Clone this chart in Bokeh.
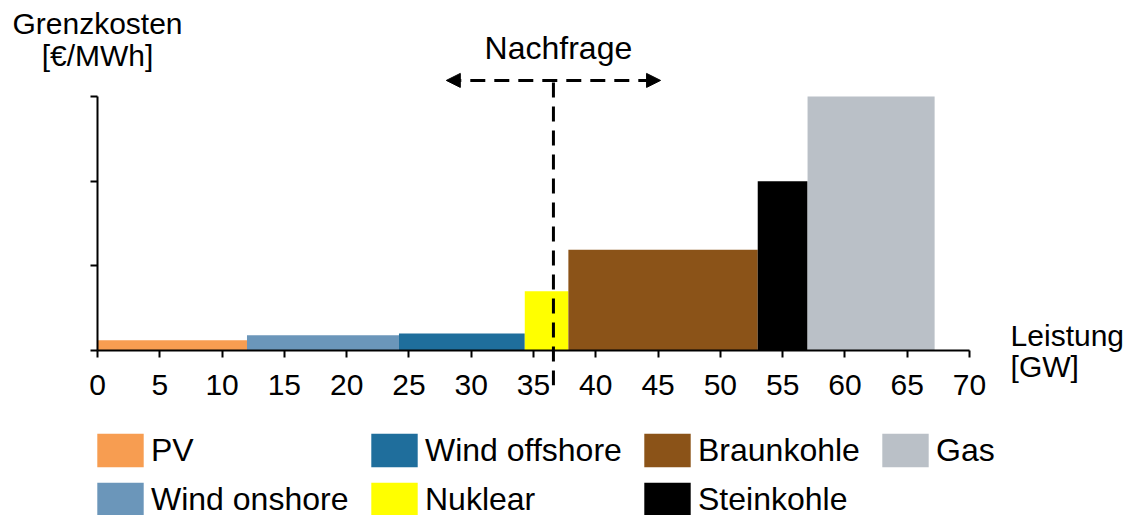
from bokeh.plotting import figure
from bokeh.models import (Legend, LegendItem, Label, Arrow, NormalHead, FixedTicker,
                          LinearAxis, Range1d)
from bokeh.embed import file_html
from bokeh.resources import INLINE

# Merit order: power plant types sorted by marginal cost
sources = ["PV", "Wind onshore", "Wind offshore", "Nuklear", "Braunkohle", "Steinkohle", "Gas"]
capacity_gw = [12.0, 12.2, 10.1, 3.5, 15.2, 4.0, 10.2]
marginal_cost = [0.12, 0.18, 0.20, 0.70, 1.19, 2.00, 3.00]
colors = ["#F79D51", "#6B96BA", "#1F6E9C", "#FFFF00", "#8B5318", "#000000", "#BAC0C7"]
x_ticks = list(range(0, 75, 5))
cost_ticks = [0, 1, 2, 3]
demand_gw = 36.6
demand_shift_gw = 8.6

FONT = "Liberation Sans"
W, H = 1130, 515
# plot area inside the page (pixels): x 0..70 over 97..969, y 0..3 over 350..96
X0_PX, X1_PX, Y0_PX, Y1_PX = 97, 969, 350, 96
X_MAX, Y_MAX = 70, 3
kx = (X1_PX - X0_PX) / X_MAX
ky = (Y0_PX - Y1_PX) / Y_MAX

p = figure(width=W, height=H, output_backend="svg", toolbar_location=None,
           x_range=Range1d(-X0_PX / kx, (W - X0_PX) / kx),
           y_range=Range1d(-(H - Y0_PX) / ky, Y0_PX / ky),
           x_axis_location=None, y_axis_location=None,
           min_border=0)
p.outline_line_color = None
p.background_fill_color = "white"
p.border_fill_color = "white"
p.grid.visible = False

# stacked capacity blocks along the x axis
lefts = []
acc = 0.0
for c in capacity_gw:
    lefts.append(acc)
    acc += c
renderers = []
for name, l, c, cost, col in zip(sources, lefts, capacity_gw, marginal_cost, colors):
    r = p.quad(left=[l], right=[l + c], bottom=[0], top=[cost], fill_color=col, line_color=None)
    renderers.append(r)

# axes pinned at the origin
xaxis = LinearAxis(fixed_location=0, bounds=(0, X_MAX), ticker=FixedTicker(ticks=x_ticks))
yaxis = LinearAxis(fixed_location=0, bounds=(0, Y_MAX), ticker=FixedTicker(ticks=cost_ticks),
                   major_label_overrides={t: "" for t in cost_ticks})
for ax in (xaxis, yaxis):
    ax.axis_line_color = "black"
    ax.axis_line_width = 2
    ax.major_tick_line_color = "black"
    ax.major_tick_line_width = 2
    ax.major_tick_out = 7
    ax.major_tick_in = 0
    ax.minor_tick_out = 0
    ax.minor_tick_in = 0
    ax.major_label_text_font = FONT
    ax.major_label_text_color = "black"
xaxis.major_label_text_font_size = "30px"
xaxis.major_label_standoff = 17
p.add_layout(xaxis, "below")
p.add_layout(yaxis, "left")

# axis titles
lift = 12 / ky
for txt, x, y, align in [("Grenzkosten", 0, 3.72, "center"), ("[€/MWh]", 0, 3.34, "center"),
                         ("Leistung", 73.3, 0.035, "left"), ("[GW]", 73.3, -0.33, "left")]:
    p.add_layout(Label(x=x, y=y + lift, text=txt, text_align=align, text_baseline="alphabetic",
                       text_font=FONT, text_font_size="30px", text_color="black"))

# demand line with shift arrows
p.add_layout(Arrow(start=None, end=None, x_start=demand_gw, x_end=demand_gw,
                   y_start=3.165, y_end=-0.41, line_width=3, line_dash="15 9", line_color="black"))
p.add_layout(Arrow(start=NormalHead(size=14, fill_color="black", line_color="black", line_width=1),
                   end=NormalHead(size=14, fill_color="black", line_color="black", line_width=1),
                   x_start=demand_gw - demand_shift_gw, x_end=demand_gw + demand_shift_gw,
                   y_start=3.19, y_end=3.19, line_width=3, line_dash="15 9", line_color="black"))
p.add_layout(Label(x=demand_gw + 0.4, y=3.45 + lift * 0.85, text="Nachfrage", text_align="center",
                   text_baseline="alphabetic", text_font=FONT, text_font_size="32px", text_color="black"))

# legend, laid out in four columns of two rows
# (area glyphs are drawn inset by 10% of the glyph box)
GLYPH_W, GLYPH_H, ROW_GAP = 58, 42, 7
columns = [[0, 1], [2, 3], [4, 5], [6]]
col_x = [97, 371, 644, 882]
for idx, cx in zip(columns, col_x):
    items = [LegendItem(label=sources[i], renderers=[renderers[i]]) for i in idx]
    n = len(idx)
    leg_h = n * GLYPH_H + (n - 1) * ROW_GAP
    top = 433 - 0.1 * GLYPH_H
    leg = Legend(items=items, orientation="vertical", glyph_width=GLYPH_W, glyph_height=GLYPH_H,
                 label_standoff=2, spacing=ROW_GAP, padding=0, margin=0,
                 border_line_color=None, background_fill_alpha=0,
                 label_text_font=FONT, label_text_font_size="32px", label_text_color="black",
                 location=(round(cx - 0.1 * GLYPH_W), round((H - top) - leg_h)))
    p.add_layout(leg)

open("out.html", "w").write(file_html(p, INLINE))
